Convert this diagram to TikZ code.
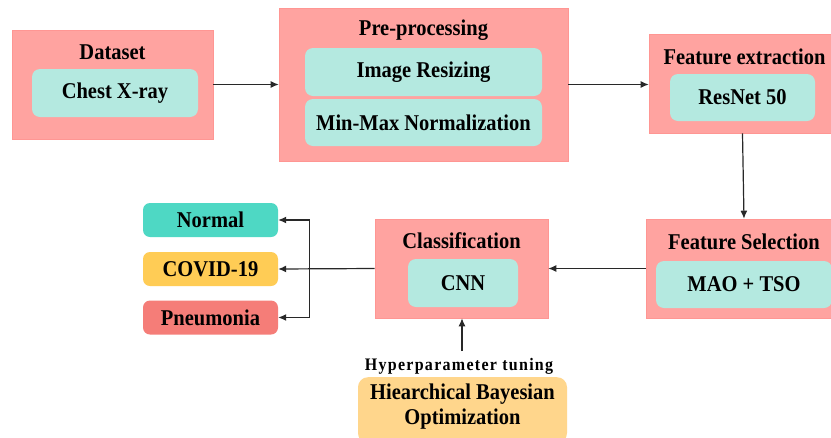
\documentclass[tikz,border=0pt]{standalone}
\usepackage{fontspec}
\usepackage{graphicx}
\setmainfont{Liberation Serif}
\usetikzlibrary{arrows.meta,calc}
\definecolor{outerpink}{RGB}{255,163,160}
\definecolor{innerteal}{RGB}{180,233,224}
\definecolor{normalc}{RGB}{78,216,196}
\definecolor{covidc}{RGB}{255,204,85}
\definecolor{pneuc}{RGB}{245,125,120}
\definecolor{hboc}{RGB}{255,214,140}
\definecolor{linec}{RGB}{40,40,40}
\newcommand{\tallt}[1]{\scalebox{1}[1.1]{#1}}
\begin{document}
\begin{tikzpicture}[x=1pt,y=-1pt,
  outerbox/.style={fill=outerpink, draw=outerpink!92!red, line width=0.6pt, inner sep=0pt},
  innerbox/.style={fill=innerteal, rounded corners=8pt, draw=none, inner sep=0pt},
  classbox/.style={rounded corners=7pt, draw=none, inner sep=0pt, minimum width=135pt, minimum height=34pt},
  lbl/.style={font=\fontsize{20.5}{25}\selectfont\bfseries, text=black, align=center},
  conn/.style={draw=linec, line width=1.2pt, -{Latex[length=8pt,width=7pt]}}]
\useasboundingbox (0,0) rectangle (831,437);
\clip (0,0) rectangle (831,437);
\fill[white] (0,0) rectangle (831,437);

% Dataset
\node[outerbox, minimum width=201pt, minimum height=109pt] (ds) at (112.5,84.5) {};
\node[lbl] (dst) at (112.5,52) {\tallt{Dataset}};
\node[innerbox, lbl, minimum width=166pt, minimum height=48pt] (dsi) at (115,93) {\tallt{Chest X-ray}};

% Pre-processing
\node[outerbox, minimum width=289pt, minimum height=153pt] (pp) at (423.5,84.5) {};
\node[lbl] (ppt) at (423.5,30) {\tallt{Pre-processing}};
\node[innerbox, lbl, minimum width=237pt, minimum height=48pt] (ppa) at (423.5,72) {\tallt{Image Resizing}};
\node[innerbox, lbl, minimum width=237pt, minimum height=47pt] (ppb) at (423.5,122.5) {\tallt{Min-Max Normalization}};

% Feature extraction
\node[outerbox, minimum width=191pt, minimum height=99pt] (fe) at (744.5,83.5) {};
\node[lbl] (fet) at (744.5,57) {\tallt{Feature extraction}};
\node[innerbox, lbl, minimum width=145pt, minimum height=47pt] (fei) at (742.5,97.5) {\tallt{ResNet 50}};

% Feature selection
\node[outerbox, minimum width=196pt, minimum height=99pt] (fs) at (744,268.5) {};
\node[lbl] (fst) at (744,242) {\tallt{Feature Selection}};
\node[innerbox, lbl, minimum width=176pt, minimum height=47pt] (fsi) at (744,284.5) {\tallt{MAO + TSO}};

% Classification
\node[outerbox, minimum width=173pt, minimum height=99pt] (cls) at (461.5,268.5) {};
\node[lbl] (clst) at (461.5,241) {\tallt{Classification}};
\node[innerbox, lbl, minimum width=110pt, minimum height=48pt] (clsi) at (463,283) {\tallt{CNN}};

% Output classes
\node[classbox, fill=normalc, lbl] (nor) at (210.5,220) {\tallt{Normal}};
\node[classbox, fill=covidc, lbl] (cov) at (210.5,269) {\tallt{COVID-19}};
\node[classbox, fill=pneuc, lbl] (pne) at (210.5,317.5) {\tallt{Pneumonia}};

% Hyperparameter tuning
\node[font=\fontsize{16}{19}\selectfont\bfseries, text=black] (hpt) at (459,366.5) {\tallt{\addfontfeatures{LetterSpace=8}Hyperparameter tuning}};
\node[fill=hboc, rounded corners=10pt, inner sep=0pt, minimum width=209pt, minimum height=66pt, anchor=north] (hbo) at (462.5,377) {};
\node[lbl] (hbot) at (462.5,394) {\tallt{Hiearchical Bayesian}};
\node[lbl] (hbob) at (462.5,419) {\tallt{Optimization}};
\coordinate (hpa) at (462,351);

% Connectors
\draw[conn] (ds.east) -- (pp.west);
\draw[conn] (pp.east) -- (pp.east -| fe.west);
\draw[conn] ([xshift=-2pt]fe.south) -- (fs.north);
\draw[conn] (cls.east -| fs.west) -- (cls.east);
\draw[conn] (cls.west) -- (cov.east);
\coordinate (br) at ($(cov.east)+(31,0)$);
\draw[conn] (br) |- (nor.east);
\draw[conn] (br) |- (pne.east);
\draw[conn] (hpa) -- (hpa |- cls.south);
\end{tikzpicture}
\end{document}
